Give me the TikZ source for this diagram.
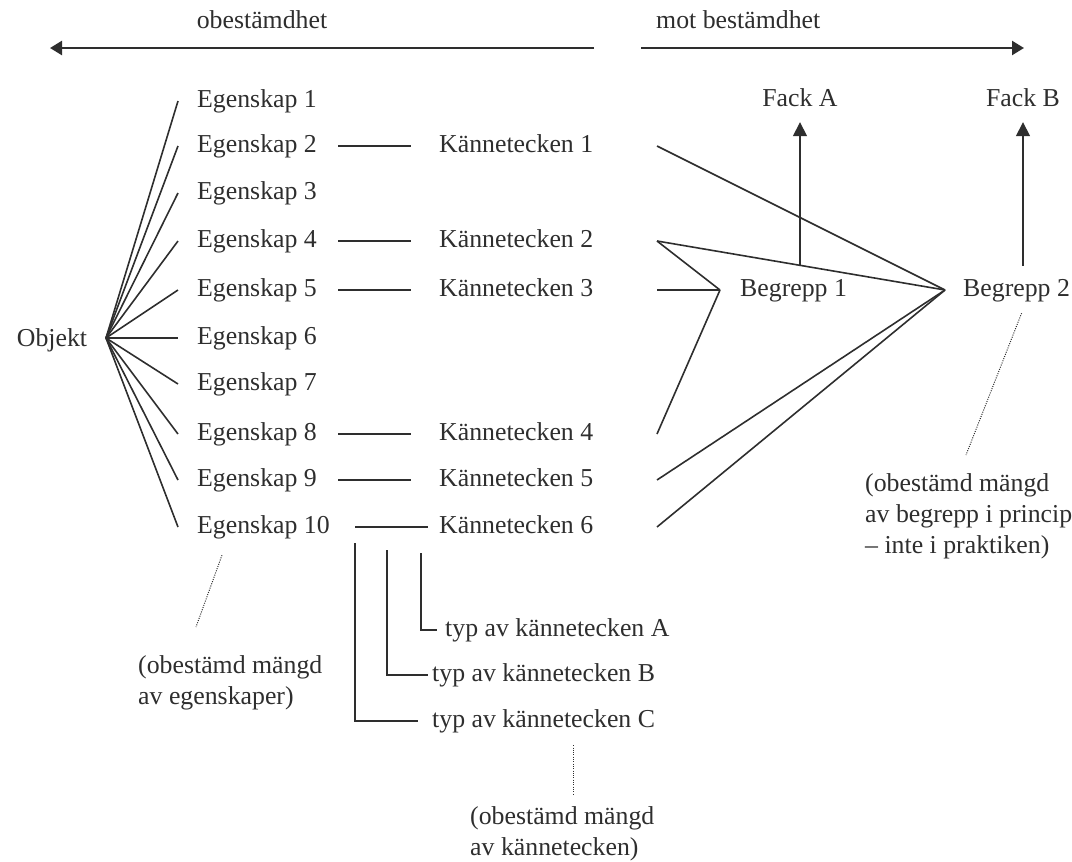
\documentclass[tikz,border=0pt]{standalone}
\usepackage{fontspec}
\setmainfont{Liberation Serif}
\usetikzlibrary{arrows.meta}
\definecolor{ink}{HTML}{2E2E2E}
\begin{document}
\begin{tikzpicture}[x=1pt,y=-1pt,
  lbl/.style={inner sep=0pt, anchor=west, text=ink,
    font=\fontsize{25.8}{31}\selectfont, text height=18pt, text depth=6pt},
  note/.style={inner sep=0pt, anchor=north west, align=left, text=ink,
    font=\fontsize{25.8}{31}\selectfont},
  link/.style={draw=ink, line width=1.6pt},
  guide/.style={draw=ink, line width=1pt, dash pattern=on 1pt off 1.3pt},
  dirarrow/.style={draw=ink, line width=2.4pt, -{Triangle[length=12pt,width=14pt]}},
  uparrow/.style={draw=ink, line width=1.6pt, -{Triangle[length=14pt,width=14pt]}}]
\useasboundingbox (0,0) rectangle (1072,862);

% direction arrows along the top
\node[lbl, anchor=center] (ob) at (262,22) {obestämdhet};
\node[lbl] (mb) at (656,22) {mot bestämdhet};
\coordinate (lstart) at (594,48);
\coordinate (lend) at (50,48);
\coordinate (rstart) at (641,48);
\coordinate (rend) at (1024,48);
\draw[dirarrow] (lstart) -- (lend);
\draw[dirarrow] (rstart) -- (rend);

% object and its properties
\node[lbl, anchor=center] (obj) at (52,340) {Objekt};
\coordinate (hub) at (106,338);
\coordinate (fanx) at (178,0);
\foreach \i/\y in {1/101,2/146,3/193,4/241,5/290,6/338,7/384,8/434,9/480,10/527}
  \node[lbl] (e\i) at (197,\y) {Egenskap \i};
\foreach \i in {1,...,10}
  \draw[link] (hub) -- (e\i.west -| fanx);

% characteristics
\foreach \i/\y in {1/146,2/241,3/290,4/434,5/480,6/527}
  \node[lbl] (k\i) at (439,\y) {Kännetecken \i};
\coordinate (ea) at (338,0);
\coordinate (eb) at (411,0);
\foreach \e/\k in {2/1,4/2,5/3,8/4,9/5}
  \draw[link] (e\e.west -| ea) -- (k\k.west -| eb);
\coordinate (ea10) at (355,0);
\coordinate (eb10) at (428,0);
\draw[link] (e10.west -| ea10) -- (k6.west -| eb10);

% concepts
\node[lbl] (b1) at (740,290) {Begrepp 1};
\node[lbl] (b2) at (963,290) {Begrepp 2};
\coordinate (b1in) at ([xshift=-20pt]b1.west);
\coordinate (b2in) at ([xshift=-18pt]b2.west);
\coordinate (kx) at (657,0);
\foreach \i in {1,...,6} \coordinate (ks\i) at (k\i.west -| kx);
\draw[link] (ks1) -- (b2in);
\draw[link] (ks2) -- (b2in);
\draw[link] (ks2) -- (b1in);
\draw[link] (ks3) -- (b1in);
\draw[link] (ks4) -- (b1in);
\draw[link] (ks5) -- (b2in);
\draw[link] (ks6) -- (b2in);

% subject fields
\node[lbl, anchor=center] (fa) at (800,100) {Fack A};
\node[lbl, anchor=center] (fb) at (1023,100) {Fack B};
\coordinate (faroot) at (intersection of ks2--b2in and fa.south--fa.north);
\draw[uparrow] (faroot) -- ([yshift=-10pt]fa.south);
\draw[uparrow] ([yshift=12pt]b2.north -| fb) -- ([yshift=-10pt]fb.south);

% kinds of characteristics
\node[lbl] (ta) at (445,630) {typ av kännetecken A};
\node[lbl] (tb) at (432,675) {typ av kännetecken B};
\node[lbl] (tc) at (432,721) {typ av kännetecken C};
\coordinate (va) at (421,553);
\coordinate (vb) at (387,550);
\coordinate (vc) at (355,543);
\draw[link] (va) |- ([xshift=-8pt]ta.west);
\draw[link] (vb) |- ([xshift=-4pt]tb.west);
\draw[link] (vc) |- ([xshift=-14pt]tc.west);

% open-ended remarks
\node[note] (n1) at (138,655) {(obestämd mängd\\av egenskaper)};
\node[note] (n2) at (865,473) {(obestämd mängd\\av begrepp i princip\\– inte i praktiken)};
\node[note] (n3) at (470,806) {(obestämd mängd\\av kännetecken)};
\draw[guide] ([xshift=25pt,yshift=-16pt]e10.south west) -- ([xshift=58pt,yshift=28pt]n1.north west);
\draw[guide] ([xshift=5pt,yshift=-11pt]b2.south) -- ([xshift=101pt,yshift=18pt]n2.north west);
\draw[guide] ([yshift=-12pt]tc.south -| 573,0) -- ([yshift=11pt]n3.north west -| 573,0);
\end{tikzpicture}
\end{document}
